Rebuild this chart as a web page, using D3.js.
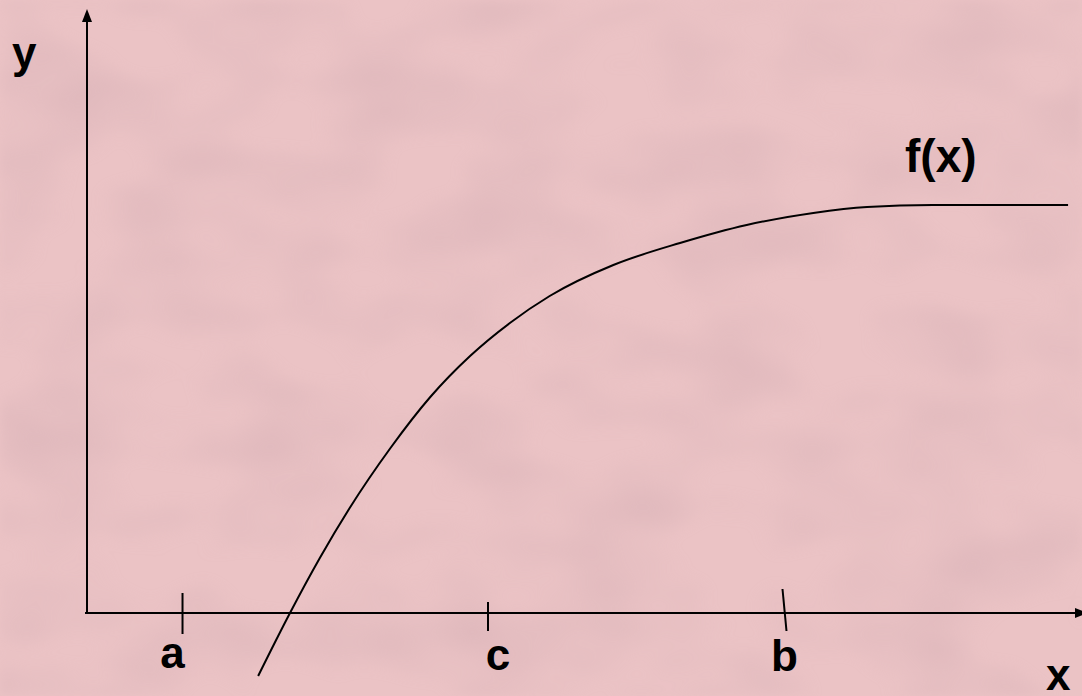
<!DOCTYPE html>
<html>
<head>
<meta charset="utf-8">
<script src="https://cdn.jsdelivr.net/npm/d3@7"></script>
<style>
  html, body { margin: 0; padding: 0; overflow: hidden; }
  svg { display: block; }
  .lbl { font-family: "Liberation Sans", Arial, sans-serif; font-weight: bold; fill: #000; }
</style>
</head>
<body>
<svg id="chart" width="1082" height="696"></svg>
<script>
/* f(x) sketch — saturating curve with points a, c, b on the x axis */

// curve samples (abstract units)
const curveX = [17.2, 20.4, 23.4, 26.4, 30.5, 34.5, 38.5, 42.5, 46.5, 52.9, 59.6, 66.3, 73.0, 78.4, 85.0, 98.6];
const curveY = [-6.3, 0, 5.5, 10.5, 16.5, 21.6, 25.7, 29.0, 31.7, 34.8, 37.0, 38.8, 40.0, 40.6, 40.8, 40.8];

// marked points on the x axis
const tickNames = ['a', 'c', 'b'];
const tickValues = [9.6, 40.3, 70.1];

const W = 1082, H = 696;
const svg = d3.select('#chart');

// ============================================================
// Background (mottled pink)
// ============================================================

const defs = svg.append('defs');
const f = defs.append('filter').attr('id', 'mottle')
  .attr('x', 0).attr('y', 0).attr('width', '100%').attr('height', '100%');
f.append('feTurbulence').attr('type', 'fractalNoise')
  .attr('baseFrequency', '0.009 0.015').attr('numOctaves', 2).attr('seed', 3).attr('result', 'n');
f.append('feColorMatrix').attr('in', 'n').attr('type', 'matrix')
  .attr('values', '0 0 0 0 0.68  0 0 0 0 0.44  0 0 0 0 0.47  1.8 0 0 0 -0.68').attr('result', 'dark');
f.append('feGaussianBlur').attr('in', 'dark').attr('stdDeviation', 5);

svg.append('rect').attr('width', W).attr('height', H).attr('fill', '#ebc3c5');
svg.append('rect').attr('width', W).attr('height', H).attr('filter', 'url(#mottle)').attr('opacity', 0.6);

// ============================================================
// Scales
// ============================================================

const x = d3.scaleLinear().domain([0, 100]).range([87, 1082]);
const y = d3.scaleLinear().domain([0, 60]).range([613, 13]);

// ============================================================
// Axes
// ============================================================

const ax = svg.append('g').attr('stroke', '#000').attr('stroke-width', 2);
ax.append('line').attr('x1', x(-0.2)).attr('x2', W).attr('y1', y(0)).attr('y2', y(0));
ax.append('line').attr('x1', x(0)).attr('x2', x(0)).attr('y1', y(0) + 1).attr('y2', 20);

// arrow heads
svg.append('path').attr('fill', '#000')
  .attr('d', `M${x(0)},9 L${x(0) - 5},22 L${x(0) + 5},22 Z`);
svg.append('path').attr('fill', '#000')
  .attr('d', `M1088,${y(0)} L1075,${y(0) - 5} L1075,${y(0) + 5} Z`);

// ticks (the b mark leans a little, as drawn by hand)
const tickUp = [20, 11, 24], tickDown = [21, 18, 18], tickLean = [0, 0, 4];
svg.append('g').selectAll('line')
  .data(tickValues)
  .join('line')
  .attr('x1', (d, i) => x(d) - tickLean[i] / 2).attr('y1', (d, i) => y(0) - tickUp[i])
  .attr('x2', (d, i) => x(d) + tickLean[i] / 2).attr('y2', (d, i) => y(0) + tickDown[i])
  .attr('stroke', '#000').attr('stroke-width', 2);

const labelDx = [-10, 10, 0], labelY = [668, 670, 671];
svg.append('g').selectAll('text')
  .data(tickNames)
  .join('text')
  .attr('class', 'lbl')
  .attr('x', (d, i) => x(tickValues[i]) + labelDx[i])
  .attr('y', (d, i) => labelY[i])
  .attr('text-anchor', 'middle')
  .attr('font-size', 44)
  .text(d => d);

// ============================================================
// Curve
// ============================================================

const pts = curveX.map((v, i) => [v, curveY[i]]);
svg.append('path')
  .datum(pts)
  .attr('fill', 'none')
  .attr('stroke', '#000')
  .attr('stroke-width', 2)
  .attr('d', d3.line().x(d => x(d[0])).y(d => y(d[1])).curve(d3.curveMonotoneX));

// ============================================================
// Axis / curve names
// ============================================================

svg.append('text').attr('class', 'lbl').attr('x', 12).attr('y', 68).attr('font-size', 44).text('y');
svg.append('text').attr('class', 'lbl').attr('x', 1046).attr('y', 690).attr('font-size', 44).text('x');
svg.append('text').attr('class', 'lbl').attr('x', 905).attr('y', 172).attr('font-size', 46).text('f(x)');
</script>
</body>
</html>
